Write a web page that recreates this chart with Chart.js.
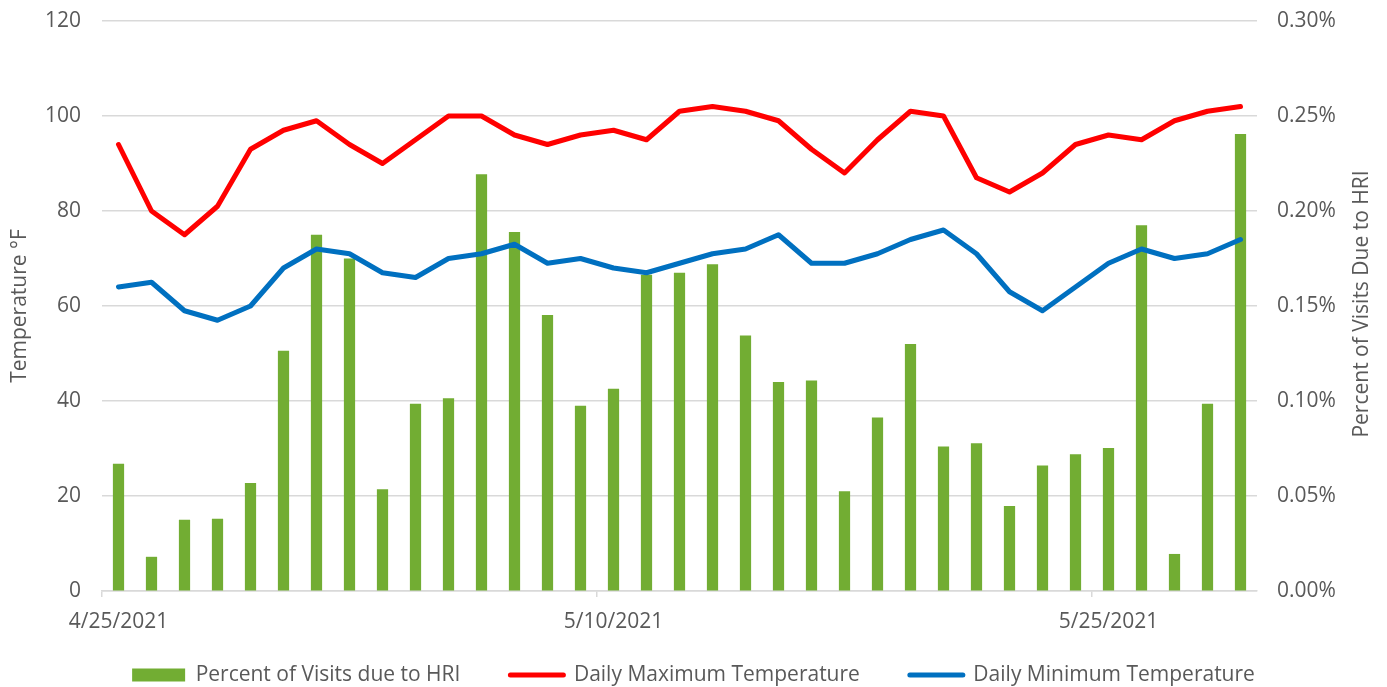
<!DOCTYPE html>
<html>
<head>
<meta charset="utf-8">
<script src="https://cdn.jsdelivr.net/npm/chart.js@4.4.0/dist/chart.umd.min.js"></script>
<style>
  html, body { margin: 0; padding: 0; background: #ffffff; overflow: hidden; }
  #wrap { width: 1387px; height: 687px; position: relative; }
</style>
</head>
<body>
<div id="wrap"><canvas id="c"></canvas></div>
<script>
const dates = [
  '4/25/2021','4/26/2021','4/27/2021','4/28/2021','4/29/2021','4/30/2021','5/1/2021',
  '5/2/2021','5/3/2021','5/4/2021','5/5/2021','5/6/2021','5/7/2021','5/8/2021',
  '5/9/2021','5/10/2021','5/11/2021','5/12/2021','5/13/2021','5/14/2021','5/15/2021',
  '5/16/2021','5/17/2021','5/18/2021','5/19/2021','5/20/2021','5/21/2021','5/22/2021',
  '5/23/2021','5/24/2021','5/25/2021','5/26/2021','5/27/2021','5/28/2021','5/29/2021'
];
const hriPercent = [
  0.067, 0.018, 0.0375, 0.038, 0.0568, 0.1265, 0.1875,
  0.175, 0.0535, 0.0985, 0.1015, 0.2193, 0.189, 0.1453,
  0.0975, 0.1065, 0.1665, 0.1675, 0.172, 0.1345, 0.11,
  0.1108, 0.0525, 0.0913, 0.13, 0.076, 0.0778, 0.0448,
  0.066, 0.072, 0.0753, 0.1925, 0.0195, 0.0985, 0.2405
];
const maxTemp = [
  94, 80, 75, 81, 93, 97, 99,
  94, 90, 95, 100, 100, 96, 94,
  96, 97, 95, 101, 102, 101, 99,
  93, 88, 95, 101, 100, 87, 84,
  88, 94, 96, 95, 99, 101, 102
];
const minTemp = [
  64, 65, 59, 57, 60, 68, 72,
  71, 67, 66, 70, 71, 73, 69,
  70, 68, 67, 69, 71, 72, 75,
  69, 69, 71, 74, 76, 71, 63,
  59, 64, 69, 72, 70, 71, 74
];
const labeledIndexes = [0, 15, 30];
const seriesNames = ['Percent of Visits due to HRI', 'Daily Maximum Temperature', 'Daily Minimum Temperature'];
const leftTitle = 'Temperature °F';
const rightTitle = 'Percent of Visits Due to HRI';

const TEXT = '#595959';
const GRID = '#d9d9d9';
const FONT = "'Open Sans', sans-serif";
const LEGEND_PAD = 50;
Chart.defaults.font.family = FONT;
Chart.defaults.font.size = 21;
Chart.defaults.color = TEXT;

const layoutTweaks = {
  id: 'layoutTweaks',
  afterLayout(chart) {
    // let the x-axis labels show fully (they are clipped to the scale box)
    const x = chart.scales.x;
    x.bottom = x.top + 60;
    // place legend row so its centre sits at y = 675
    const lg = chart.legend;
    const h = lg.bottom - lg.top;
    lg.top = 675 - 10.5 - LEGEND_PAD;
    lg.bottom = lg.top + h;
  },
  afterDraw(chart) {
    const ctx = chart.ctx;
    ctx.save();
    ctx.fillStyle = TEXT;
    ctx.font = "21px " + FONT;
    ctx.textAlign = 'center';
    ctx.textBaseline = 'middle';
    ctx.translate(1362, (chart.chartArea.top + chart.chartArea.bottom) / 2 - 2);
    ctx.rotate(-Math.PI / 2);
    ctx.fillText(rightTitle, 0, 0);
    ctx.restore();
  }
};

function noVerticalPadding(scale, width) {
  scale.width = width;
  scale.paddingTop = 0;
  scale.paddingBottom = 0;
}

new Chart(document.getElementById('c'), {
  type: 'bar',
  data: {
    labels: dates,
    datasets: [
      {
        type: 'bar',
        label: seriesNames[0],
        data: hriPercent,
        yAxisID: 'y1',
        backgroundColor: '#72AD33',
        borderWidth: 0,
        categoryPercentage: 1,
        barPercentage: 0.34,
        order: 1
      },
      {
        type: 'line',
        label: seriesNames[1],
        data: maxTemp,
        yAxisID: 'y',
        borderColor: '#FF0000',
        backgroundColor: '#FF0000',
        borderWidth: 5,
        pointRadius: 0,
        tension: 0,
        borderJoinStyle: 'round',
        borderCapStyle: 'round',
        order: 0
      },
      {
        type: 'line',
        label: seriesNames[2],
        data: minTemp,
        yAxisID: 'y',
        borderColor: '#0070C0',
        backgroundColor: '#0070C0',
        borderWidth: 5,
        pointRadius: 0,
        tension: 0,
        borderJoinStyle: 'round',
        borderCapStyle: 'round',
        order: 0
      }
    ]
  },
  options: {
    responsive: true,
    maintainAspectRatio: false,
    animation: false,
    layout: { padding: { top: 21, left: 0, right: 0, bottom: 0 } },
    plugins: {
      tooltip: { enabled: false },
      legend: {
        position: 'bottom',
        labels: {
          usePointStyle: true,
          pointStyleWidth: 53,
          boxHeight: 13,
          padding: LEGEND_PAD,
          color: TEXT,
          font: { size: 21, family: FONT },
          generateLabels(chart) {
            const items = Chart.defaults.plugins.legend.labels.generateLabels(chart);
            items.sort((a, b) => a.datasetIndex - b.datasetIndex);
            items.forEach(it => {
              const ds = chart.data.datasets[it.datasetIndex];
              if (ds.type === 'line') {
                it.pointStyle = 'line';
                it.lineWidth = 5;
                it.strokeStyle = ds.borderColor;
                it.fillStyle = ds.borderColor;
                it.lineCap = 'round';
              } else {
                it.pointStyle = 'rect';
                it.lineWidth = 0;
                it.fillStyle = ds.backgroundColor;
                it.strokeStyle = ds.backgroundColor;
              }
            });
            return items;
          }
        }
      }
    },
    scales: {
      x: {
        type: 'category',
        offset: true,
        grid: {
          display: true,
          offset: true,
          drawOnChartArea: false,
          drawTicks: true,
          tickLength: 6,
          lineWidth: 1.5,
          color: (ctx) => labeledIndexes.includes(ctx.index) ? GRID : 'rgba(0,0,0,0)'
        },
        border: { display: true, color: GRID, width: 1.5 },
        ticks: {
          autoSkip: false,
          maxRotation: 0,
          minRotation: 0,
          padding: 12,
          color: TEXT,
          callback: function(value, index) {
            return labeledIndexes.includes(index) ? dates[index] : '';
          }
        },
        afterFit(scale) { scale.height = 15; }
      },
      y: {
        position: 'left',
        min: 0,
        max: 120,
        ticks: { stepSize: 20, padding: 21, color: TEXT },
        grid: { color: GRID, lineWidth: 1.5, drawTicks: false },
        border: { display: false },
        title: {
          display: true,
          text: leftTitle,
          color: TEXT,
          font: { size: 21, family: FONT },
          padding: { top: 7, bottom: 0 }
        },
        afterFit(scale) { noVerticalPadding(scale, 102); }
      },
      y1: {
        position: 'right',
        min: 0,
        max: 0.30,
        ticks: {
          stepSize: 0.05,
          padding: 20,
          color: TEXT,
          callback: (v) => v.toFixed(2) + '%'
        },
        grid: { drawOnChartArea: false, drawTicks: false },
        border: { display: false },
        afterFit(scale) { noVerticalPadding(scale, 130); }
      }
    }
  },
  plugins: [layoutTweaks]
});
</script>
</body>
</html>
